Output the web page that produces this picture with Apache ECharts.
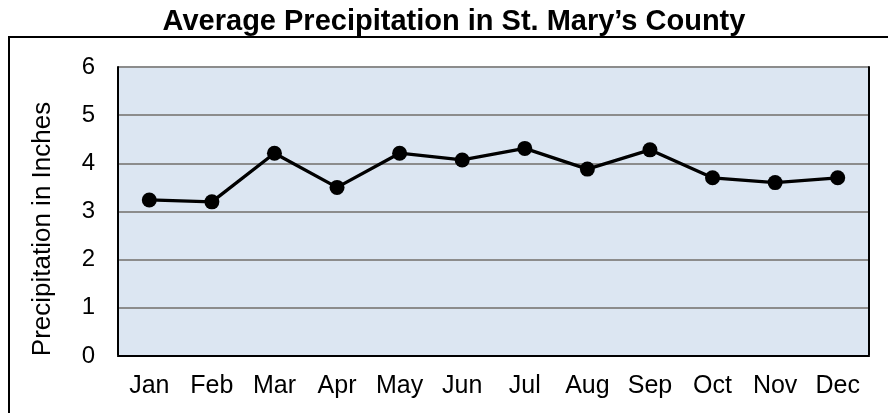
<!DOCTYPE html>
<html>
<head>
<meta charset="utf-8">
<script src="https://cdn.jsdelivr.net/npm/echarts@6/dist/echarts.min.js"></script>
<style>
  html, body { margin: 0; padding: 0; background: #fff; }
  #chart { width: 888px; height: 413px; }
</style>
</head>
<body>
<div id="chart"></div>
<script>
// chart values
var months = ["Jan", "Feb", "Mar", "Apr", "May", "Jun", "Jul", "Aug", "Sep", "Oct", "Nov", "Dec"];
var precip = [3.24, 3.20, 4.21, 3.50, 4.21, 4.07, 4.31, 3.88, 4.28, 3.70, 3.60, 3.70];
var yTicks = [0, 1, 2, 3, 4, 5, 6];

var font = "Liberation Sans, Arial, sans-serif";
var myChart = echarts.init(document.getElementById("chart"));

var option = {
  animation: false,
  backgroundColor: "#fff",
  title: {
    text: "Average Precipitation in St. Mary\u2019s County",
    left: 449,
    textAlign: "center",
    top: 2,
    textStyle: { fontFamily: font, fontWeight: "bold", fontSize: 29, color: "#000" }
  },
  graphic: [{
    // outer chart frame
    type: "rect",
    shape: { x: 9, y: 37, width: 900, height: 400 },
    style: { fill: null, stroke: "#000", lineWidth: 2 },
    silent: true
  }, {
    // y axis title (sits a bit below the plot middle)
    type: "text",
    x: 43,
    y: 229,
    rotation: Math.PI / 2,
    style: {
      text: "Precipitation in Inches",
      font: "26px " + font,
      fill: "#000",
      textAlign: "center",
      textVerticalAlign: "middle"
    },
    silent: true
  }],
  grid: {
    left: 118, right: 19, top: 67, bottom: 57,
    show: true, backgroundColor: "#dce6f2", borderWidth: 0
  },
  xAxis: [{
    type: "category",
    data: months,
    boundaryGap: true,
    axisLine: { lineStyle: { color: "#8c8c8c", width: 2 } },
    axisTick: { show: false },
    axisLabel: { fontFamily: font, fontSize: 25, color: "#000", margin: 18 }
  }, {
    type: "category",
    position: "top",
    data: months,
    axisLine: { lineStyle: { color: "#000", width: 2 } },
    axisTick: { show: false },
    axisLabel: { show: false }
  }],
  yAxis: [{
    type: "value",
    min: yTicks[0],
    max: yTicks[yTicks.length - 1],
    interval: 1,
    axisLine: { show: true, lineStyle: { color: "#000", width: 2 } },
    axisTick: { show: false },
    axisLabel: { fontFamily: font, fontSize: 24, color: "#000", margin: 23 },
    splitLine: { lineStyle: { color: "#8c8c8c", width: 2 } }
  }, {
    type: "value",
    position: "right",
    min: yTicks[0],
    max: yTicks[yTicks.length - 1],
    interval: 1,
    axisLine: { show: true, lineStyle: { color: "#000", width: 2 } },
    axisTick: { show: false },
    axisLabel: { show: false },
    splitLine: { show: false }
  }],
  series: [{
    type: "line",
    data: precip,
    symbol: "circle",
    symbolSize: 15,
    lineStyle: { color: "#000", width: 3.3 },
    itemStyle: { color: "#000" }
  }]
};

myChart.setOption(option);
window.addEventListener("resize", function () { myChart.resize(); });
</script>
</body>
</html>
